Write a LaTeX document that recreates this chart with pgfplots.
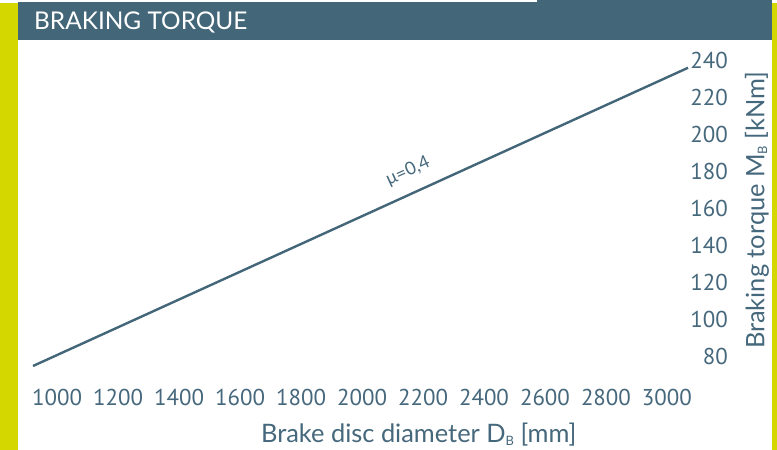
\documentclass[border=0pt]{standalone}
\usepackage{pgfplots}
\pgfplotsset{compat=1.18}
\usepackage{fontspec}
\setmainfont{Lato}
\newfontfamily\tickfont{PT Sans}
\definecolor{slate}{HTML}{436679}
\definecolor{txt}{HTML}{46687C}
\definecolor{yel}{HTML}{D4D800}
\newcommand\sub[1]{\raisebox{-0.2ex}{\fontsize{13}{13}\selectfont #1}}
\begin{document}
\begin{tikzpicture}[x=1bp,y=1bp]
\fill[white] (0,0) rectangle (777,450);
\useasboundingbox (0,0) rectangle (777,450);
\fill[yel] (0,0) rectangle (17.5,447);
\fill[yel] (772,0) rectangle (777,447);
\fill[slate] (18,410) rectangle (772,448);
\fill[slate] (537,448) rectangle (772,450);
\node[anchor=base west, text=white, inner sep=0, font=\fontsize{24.5}{24.5}\selectfont] at (34,420) {BRAKING TORQUE};
\begin{axis}[
  at={(33bp,84bp)}, anchor=south west,
  scale only axis, width=655bp, height=305.6bp,
  xmin=921, xmax=3069, ymin=75, ymax=240,
  axis line style={draw=none}, major tick length=0,
  xtick={1000,1200,...,3000}, ytick={80,100,...,240},
  yticklabel pos=right,
  /pgf/number format/assume math mode=true,
  /pgf/number format/1000 sep={},
  tick label style={font=\tickfont\fontsize{23}{23}\selectfont, text=txt, inner sep=0},
  xticklabel style={anchor=center, yshift=-31bp},
  yticklabel style={anchor=east, xshift=40bp},
  xlabel={Brake disc diameter D\sub{B} [mm]},
  ylabel={Braking torque M\sub{B} [kNm]},
  label style={font=\fontsize{25.5}{25.5}\selectfont, text=txt},
  xlabel style={at={(axis description cs:0.589,0)}, anchor=center, yshift=-69bp, inner sep=0},
  ylabel style={at={(axis description cs:1,0.51)}, anchor=center, yshift=-69bp, inner sep=0},
  clip=false,
]
\addplot[slate, line width=2.4bp] coordinates {(921,75) (3069,236)};
\node[rotate=24.5, text=txt, inner sep=0, font=\fontsize{18}{18}\selectfont] at (axis cs:2151,180) {μ=0,4};
\end{axis}
\end{tikzpicture}
\end{document}
